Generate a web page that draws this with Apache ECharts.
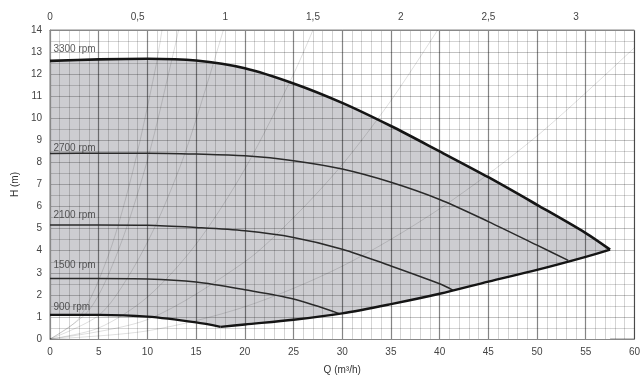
<!DOCTYPE html>
<html>
<head>
<meta charset="utf-8">
<script src="https://cdn.jsdelivr.net/npm/echarts@6/dist/echarts.min.js"></script>
<style>
html,body{margin:0;padding:0;background:#fff;}
#chart{width:643px;height:380px;}
</style>
</head>
<body>
<div id="chart"></div>
<script>
// ---- data ----
const q3300 = [0, 5, 10, 15, 20, 25, 30, 35, 40, 45, 50, 55, 57.5];
const h3300 = [12.6, 12.67, 12.7, 12.62, 12.27, 11.58, 10.7, 9.65, 8.5, 7.33, 6.08, 4.8, 4.05];
const q2700 = [0, 5, 10, 15, 20, 25, 30, 35, 40, 45, 50, 53.2];
const h2700 = [8.4, 8.42, 8.42, 8.38, 8.3, 8.08, 7.7, 7.1, 6.32, 5.32, 4.25, 3.56];
const q2100 = [0, 5, 10, 15, 20, 25, 30, 35, 40, 41.4];
const h2100 = [5.16, 5.16, 5.15, 5.05, 4.9, 4.6, 4.07, 3.31, 2.5, 2.2];
const q1500 = [0, 5, 10, 15, 20, 25, 29.7];
const h1500 = [2.74, 2.74, 2.72, 2.58, 2.23, 1.81, 1.15];
const q900 = [0, 5, 10, 15, 17.5];
const h900 = [1.09, 1.09, 1.01, 0.75, 0.55];
const qLimit = [17.5, 20, 25, 30, 35, 40, 45, 50, 55, 57.5];
const hLimit = [0.55, 0.66, 0.87, 1.16, 1.58, 2.05, 2.6, 3.13, 3.72, 4.05];
const speedNames = ['3300 rpm', '2700 rpm', '2100 rpm', '1500 rpm', '900 rpm'];
const labelQ = [0.35, 0.35, 0.35, 0.35, 0.35];
const labelH = [13.12, 8.62, 5.6, 3.34, 1.45];
// faint system curves (Q, H)
const sysA = [[0,0],[10,0.88],[20,3.5],[25,5.5],[30,7.9],[35,10.8],[39.8,14]];
const sysB = [[0,0],[10,0.37],[20,1.46],[30,3.3],[40,5.9],[50,9.2],[60,13.2]];
const sysC = [[0,0],[5,0.5],[10,1.9],[15,4.3],[20,7.7],[25,12],[27,14]];
const sysD = [[0,0],[5,1.07],[8,2.8],[11,5.3],[14,8.6],[17.8,14]];
const sysE = [[0,0],[4,1.3],[7,4.0],[10,8.1],[12.8,13.2],[13.2,14]];
const sysF = [[0,0],[3,0.95],[6,3.8],[8.5,7.6],[10.8,12.2],[11.5,14]];
const systemCurves = [sysA, sysB, sysC, sysD, sysE, sysF];
// axes
const qMin = 0, qMax = 60, qStep = 5;
const hMin = 0, hMax = 14, hStep = 1;
const qPerTopUnit = 18;          // top scale: 1 unit = 18 m³/h
const topStep = 0.5;

const zip = (xs, ys) => xs.map((x, i) => [x, ys[i]]);

const chart = echarts.init(document.getElementById('chart'), null, {renderer: 'canvas'});
const FONT = 'Liberation Sans, Arial, sans-serif';
const SM = 0.3;

const mainLine = (data, width, color) => ({
  type: 'line', data, smooth: SM, symbol: 'none', z: 5,
  lineStyle: {color, width}, silent: true, animation: false
});
const fill = (data, color, z) => ({
  type: 'line', data, smooth: SM, symbol: 'none', z,
  lineStyle: {width: 0}, areaStyle: {color, opacity: 1}, animation: false, silent: true
});

const series = [];
series.push(fill(zip(q3300, h3300), '#cdcdd1', 1));
series.push(fill(zip(q900, h900), '#ffffff', 2));
series.push(fill(zip(qLimit, hLimit), '#ffffff', 2));
systemCurves.forEach(d => series.push({type: 'line', data: d, smooth: 0.3, symbol: 'none', z: 4,
  lineStyle: {color: 'rgba(0,0,0,0.13)', width: 1}, animation: false, silent: true}));
series.push(mainLine(zip(q3300, h3300), 2.6, '#151515'));
series.push(mainLine(zip(q2700, h2700), 1.5, '#2a2a2a'));
series.push(mainLine(zip(q2100, h2100), 1.5, '#2a2a2a'));
series.push(mainLine(zip(q1500, h1500), 1.5, '#2a2a2a'));
series.push(mainLine(zip(q900, h900), 2.2, '#151515'));
series.push(mainLine(zip(qLimit, hLimit), 2.4, '#151515'));
series.push({type: 'scatter', symbolSize: 0, z: 6, silent: true, animation: false,
  data: speedNames.map((n, i) => ({value: [labelQ[i], labelH[i]], name: n})),
  label: {show: true, position: 'right', distance: 0, formatter: p => p.name,
    color: '#333', fontFamily: FONT, fontSize: 10}});

chart.setOption({
  animation: false,
  backgroundColor: '#ffffff',
  grid: {left: 50, right: 8, top: 30, bottom: 40, show: true, borderColor: '#888', borderWidth: 1},
  xAxis: [{
    type: 'value', position: 'bottom', min: qMin, max: qMax, interval: qStep, z: 3,
    name: 'Q (m³/h)', nameLocation: 'middle', nameGap: 26,
    nameTextStyle: {color: '#333', fontFamily: FONT, fontSize: 10},
    axisLine: {show: true, lineStyle: {color: '#888', width: 1}},
    axisTick: {show: false},
    axisLabel: {color: '#444', fontFamily: FONT, fontSize: 10, margin: 8},
    splitLine: {show: true, lineStyle: {color: 'rgba(0,0,0,0.48)', width: 1.2}},
    minorTick: {show: false, splitNumber: 5},
    minorSplitLine: {show: true, lineStyle: {color: 'rgba(0,0,0,0.17)', width: 1}}
  }, {
    type: 'value', position: 'top', min: 0, max: qMax / qPerTopUnit, interval: topStep, z: 3,
    axisLine: {show: true, lineStyle: {color: '#888', width: 1}},
    axisTick: {show: false},
    splitLine: {show: false},
    axisLabel: {color: '#444', fontFamily: FONT, fontSize: 10, margin: 8, showMaxLabel: false,
      formatter: v => String(v).replace('.', ',')}
  }],
  yAxis: [{
    type: 'value', min: hMin, max: hMax, interval: hStep, z: 3,
    name: 'H (m)', nameLocation: 'middle', nameGap: 28, nameRotate: 90,
    nameTextStyle: {color: '#333', fontFamily: FONT, fontSize: 10},
    axisLine: {show: true, lineStyle: {color: '#888', width: 1}},
    axisTick: {show: false},
    axisLabel: {color: '#444', fontFamily: FONT, fontSize: 10, margin: 8},
    splitLine: {show: true, lineStyle: {color: 'rgba(0,0,0,0.24)', width: 1}},
    minorTick: {show: false, splitNumber: 2},
    minorSplitLine: {show: true, lineStyle: {color: 'rgba(0,0,0,0.17)', width: 1}}
  }],
  series
});
</script>
</body>
</html>
